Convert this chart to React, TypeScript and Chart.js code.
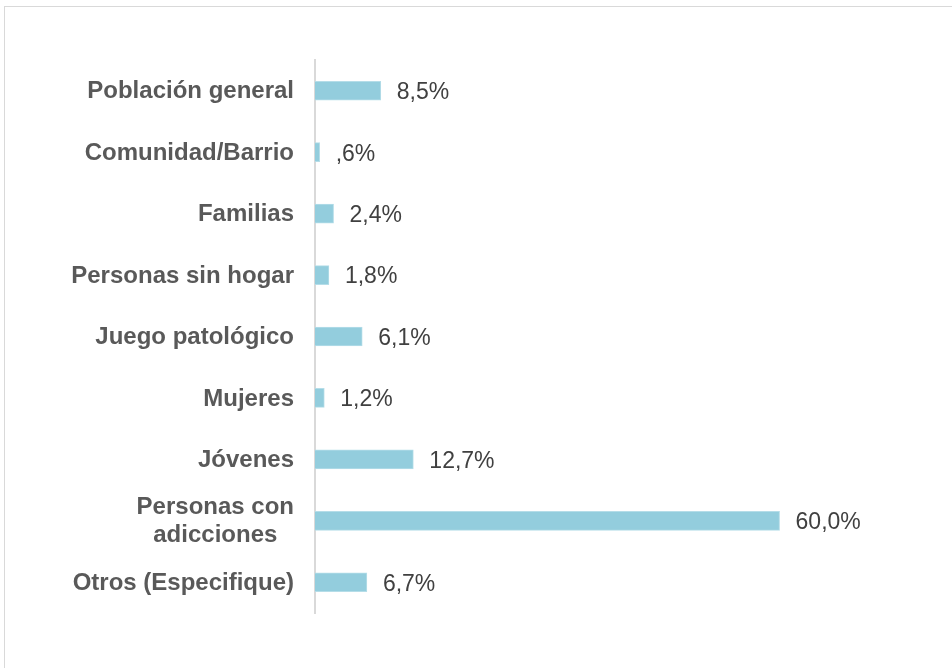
import React, { useEffect, useRef } from "react";
import { Chart, registerables } from "chart.js";

Chart.register(...registerables);

const categories: (string | string[])[] = [
  "Población general",
  "Comunidad/Barrio",
  "Familias",
  "Personas sin hogar",
  "Juego patológico",
  "Mujeres",
  "Jóvenes",
  ["Personas con", "adicciones"],
  "Otros (Especifique)",
];
const values: number[] = [8.5, 0.6, 2.4, 1.8, 6.1, 1.2, 12.7, 60.0, 6.7];

const FONT = "'Liberation Sans', Arial, sans-serif";
const BAR_COLOR = "#93CDDD";

function fmt(v: number): string {
  let s = v.toFixed(1).replace(".", ",");
  if (s.startsWith("0,")) s = s.slice(1);
  return s + "%";
}

const labelsPlugin = {
  id: "customLabels",
  afterDraw(chart: any) {
    const ctx = chart.ctx as CanvasRenderingContext2D;
    const yScale = chart.scales.y;
    const meta = chart.getDatasetMeta(0);
    ctx.save();
    // category labels
    ctx.font = `bold 24px ${FONT}`;
    ctx.fillStyle = "#595959";
    ctx.textBaseline = "middle";
    const rightX = chart.chartArea.left - 21;
    categories.forEach((c, i) => {
      const y = yScale.getPixelForValue(i) + 1;
      if (Array.isArray(c)) {
        const widths = c.map((l) => ctx.measureText(l).width);
        const maxW = Math.max(...widths);
        const cx = rightX - maxW / 2;
        const lh = 28;
        ctx.textAlign = "center";
        c.forEach((line, k) => {
          ctx.fillText(line, cx, y + (k - (c.length - 1) / 2) * lh);
        });
      } else {
        ctx.textAlign = "right";
        ctx.fillText(c, rightX, y);
      }
    });
    // value labels
    ctx.font = `23px ${FONT}`;
    ctx.fillStyle = "#404040";
    ctx.textAlign = "left";
    meta.data.forEach((bar: any, i: number) => {
      ctx.fillText(fmt(values[i]), bar.x + 16, bar.y + 2);
    });
    ctx.restore();
  },
};

export default function App() {
  const ref = useRef<HTMLCanvasElement | null>(null);
  useEffect(() => {
    if (!ref.current) return;
    const chart = new Chart(ref.current, {
      type: "bar",
      data: {
        labels: categories as any,
        datasets: [
          {
            data: values,
            backgroundColor: BAR_COLOR,
            borderColor: "#B5DDE8",
            borderWidth: 1,
            barThickness: 19,
          },
        ],
      },
      options: {
        indexAxis: "y",
        animation: false,
        responsive: false,
        maintainAspectRatio: false,
        layout: { padding: { left: 0, right: 95, top: 60, bottom: 55 } },
        plugins: {
          legend: { display: false },
          tooltip: { enabled: false },
        },
        scales: {
          x: {
            display: false,
            min: 0,
            max: 70,
          },
          y: {
            grid: { display: false, drawTicks: false },
            border: { display: true, color: "#D9D9D9", width: 2 },
            ticks: { display: false },
            afterFit: (scale: any) => {
              scale.width = 315;
            },
          },
        },
      },
      plugins: [labelsPlugin],
    });
    return () => chart.destroy();
  }, []);
  return (
    <div style={{ position: "fixed", left: 0, top: 0, width: 952, height: 668, background: "#fff" }}>
      <div
        style={{
          position: "absolute",
          left: 4,
          top: 6,
          width: 970,
          height: 690,
          border: "1px solid #D9D9D9",
          boxSizing: "border-box",
        }}
      />
      <canvas ref={ref} width={952} height={668} style={{ position: "absolute", left: 0, top: 0 }} />
    </div>
  );
}
